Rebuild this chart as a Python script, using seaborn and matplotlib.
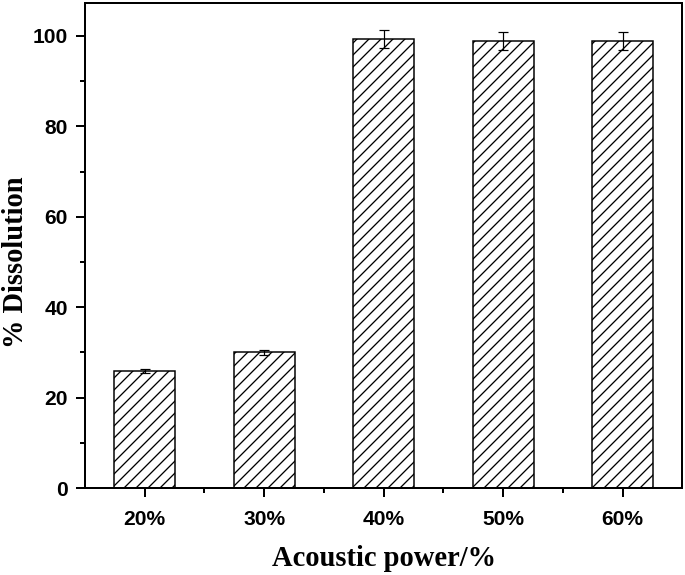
import matplotlib
matplotlib.use("Agg")
import matplotlib.pyplot as plt
import seaborn as sns
import pandas as pd
from matplotlib.ticker import MultipleLocator

categories = ["20%", "30%", "40%", "50%", "60%"]
values = [25.9, 30.0, 99.4, 98.9, 98.9]
errors = [0.45, 0.6, 2.0, 2.0, 2.0]

sns.set_style("ticks")
plt.rcParams["hatch.linewidth"] = 1.3
plt.rcParams["hatch.color"] = "black"

df = pd.DataFrame({"power": categories, "dissolution": values})

fig = plt.figure(figsize=(685 / 72, 575 / 72), dpi=72)
ax = fig.add_axes([0.124, 0.1513, 0.872, 0.8435])

sns.barplot(data=df, x="power", y="dissolution", ax=ax, width=0.51,
            color="white", edgecolor="black", linewidth=1.5, hatch="//",
            errorbar=None)
for p in ax.patches:
    p.set_facecolor("white")
    p.set_edgecolor("black")

ax.errorbar(range(len(categories)), values, yerr=errors, fmt="none",
            ecolor="black", elinewidth=1.2, capsize=5, capthick=1.2, zorder=5)

ax.set_xlim(-0.5, 4.5)
ax.set_ylim(0, 107.3)
ax.yaxis.set_major_locator(MultipleLocator(20))
ax.yaxis.set_minor_locator(MultipleLocator(10))
ax.set_xticks(range(len(categories)))
ax.set_xticks([i + 0.5 for i in range(len(categories) - 1)], minor=True)

for s in ax.spines.values():
    s.set_visible(True)
    s.set_linewidth(2)
    s.set_color("black")

ax.tick_params(axis="both", which="major", direction="out", length=9, width=2,
               color="black", labelsize=21, labelcolor="black")
ax.tick_params(axis="x", which="major", pad=13)
ax.tick_params(axis="y", which="major", pad=8)
ax.tick_params(axis="both", which="minor", direction="out", length=5, width=2,
               color="black")
for lab in ax.get_xticklabels() + ax.get_yticklabels():
    lab.set_fontfamily(["Liberation Sans", "DejaVu Sans"])
    lab.set_fontweight("bold")

ax.set_xlabel("Acoustic power/%", fontsize=28.5, fontweight="bold", color="black",
              family=["Liberation Serif", "DejaVu Serif"], labelpad=16)
ax.set_ylabel("% Dissolution", fontsize=28.5, fontweight="bold", color="black",
              family=["Liberation Serif", "DejaVu Serif"])
ax.yaxis.set_label_coords(-0.093, 0.466)

fig.savefig("out.png", dpi=72)
